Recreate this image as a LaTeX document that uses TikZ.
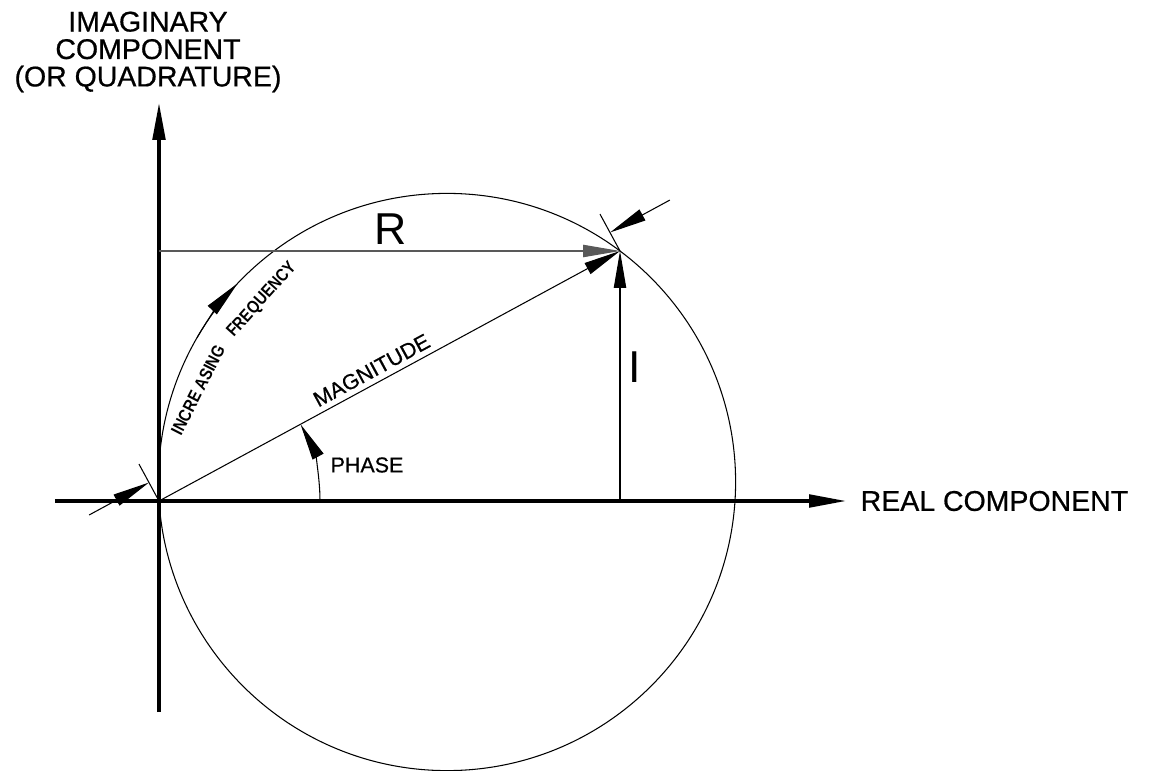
\documentclass[tikz,border=0pt]{standalone}
\usepackage{fontspec}
\setmainfont{Liberation Sans}
\newfontfamily\cadfont{Liberation Sans}[FakeBold=0.6]
\usetikzlibrary{arrows.meta, positioning, calc}
\tikzset{
  axisline/.style={line width=0.9pt, black},
  fineline/.style={line width=0.3pt, black},
  axisarrow/.style={axisline, -{Triangle[length=10.5pt,width=3.6pt]}},
  vecarrow/.style={fineline, -{Triangle[length=10.5pt,width=3.5pt]}},
  biglabel/.style={font=\cadfont\fontsize{8.1}{7.8}\selectfont, align=center, inner sep=0pt},
  midlabel/.style={font=\cadfont\fontsize{6.1}{7}\selectfont, inner sep=0pt},
  smalllabel/.style={font=\bfseries\fontsize{5}{6}\selectfont, xscale=0.85, inner sep=0pt},
  letterlabel/.style={font=\fontsize{12.7}{14}\selectfont, inner sep=0pt},
}
\begin{document}
\begin{tikzpicture}[x=0.01cm, y=0.01cm]
  \useasboundingbox (-159,-269) rectangle (990,501);
  \coordinate (O) at (0,0);
  \coordinate (P) at (461,250);
  \coordinate (C) at (288,19);
  \coordinate (xs) at (-104,0);
  \coordinate (xe) at (687,0);
  \coordinate (ys) at (0,-211);
  \coordinate (ye) at (0,398);
  \coordinate (Rs) at (0,250);
  \coordinate (Is) at (461,0);
  \coordinate (ph) at (161,0);
  \coordinate (fq) at ($(C)+(150:288.6)$);
  % circle and axes
  \draw[fineline] (C) circle [radius=288.6];
  \draw[axisarrow] (xs) -- (xe);
  \draw[axisarrow] (ys) -- (ye);
  % vector and its components
  \draw[vecarrow, draw=black!65] (Rs) -- (P);
  \draw[vecarrow] (O) -- (P);
  \draw[vecarrow] (Is) -- (P);
  \draw[vecarrow] (ph) arc[start angle=0, end angle=28.5, radius=161];
  \draw[vecarrow] (fq) arc[start angle=150, end angle=136.5, radius=288.6];
  % dimension of the magnitude
  \coordinate (Oe) at ($(O)!0.42cm!90:(P)$);
  \coordinate (Pe) at ($(P)!0.42cm!-90:(O)$);
  \coordinate (Od) at ($(O)!0.21cm!90:(P)$);
  \coordinate (Pd) at ($(P)!0.21cm!-90:(O)$);
  \coordinate (Ot) at ($(Od)!-0.68cm!(Pd)$);
  \coordinate (Pt) at ($(Pd)!-0.68cm!(Od)$);
  \draw[fineline] (O) -- (Oe);
  \draw[fineline] (P) -- (Pe);
  \draw[vecarrow] (Ot) -- (Od);
  \draw[vecarrow] (Pt) -- (Pd);
  % labels
  \node[biglabel, anchor=south] (imag) at (-11,408) {IMAGINARY\\COMPONENT\\(OR QUADRATURE)};
  \node[biglabel, right=0.14cm of xe] (real) {REAL COMPONENT};
  \node[letterlabel, anchor=south] (rlab) at (232,256) {R};
  \node[letterlabel] (ilab) at (476,134) {I};
  \node[midlabel] (phlab) at (208,36) {PHASE};
  \node[midlabel, rotate=28.5, anchor=south, inner sep=1.5pt] (maglab) at ($(O)!0.475!(P)$) {MAGNITUDE};
  \node[rotate=63, smalllabel] (inclab) at (39,111) {INCRE ASING};
  \node[rotate=48, smalllabel] (freqlab) at (103,201) {FREQUENCY};
\end{tikzpicture}
\end{document}
